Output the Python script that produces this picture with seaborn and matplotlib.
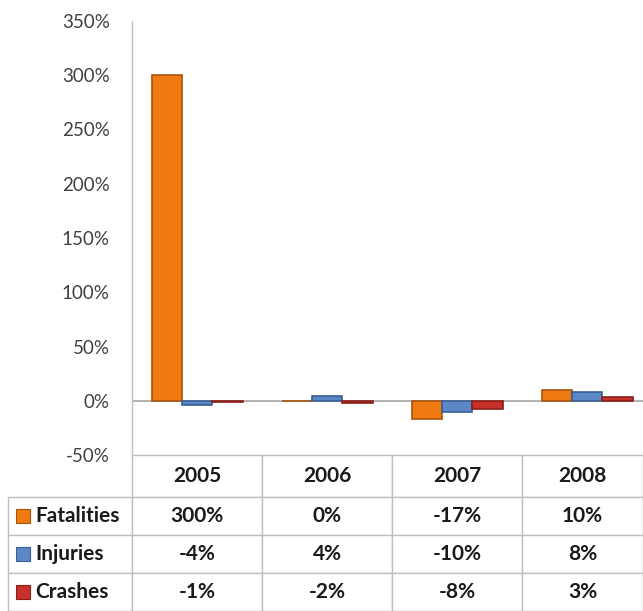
import numpy as np
import pandas as pd
import seaborn as sns
import matplotlib.pyplot as plt
from matplotlib.patches import Rectangle

### data
years = ["2005", "2006", "2007", "2008"]
series = ["Fatalities", "Injuries", "Crashes"]
fatalities = [300, 0, -17, 10]
injuries = [-4, 4, -10, 8]
crashes = [-1, -2, -8, 3]
y_ticks = [-50, 0, 50, 100, 150, 200, 250, 300, 350]

colors = {"Fatalities": "#F07A12", "Injuries": "#5B87C5", "Crashes": "#C8302B"}
edges = {"Fatalities": "#A9530C", "Injuries": "#3A5F95", "Crashes": "#8A1E1A"}

df = pd.DataFrame({"Year": years, "Fatalities": fatalities,
                   "Injuries": injuries, "Crashes": crashes})
long_df = df.melt(id_vars="Year", var_name="Series", value_name="Change")

sns.set_style("white")
plt.rcParams["font.family"] = ["Lato", "DejaVu Sans"]

W, H = 643, 611
fig = plt.figure(figsize=(W / 100, H / 100), dpi=100)
# plot area in pixel terms: left 132, right 643, top 21, bottom 455
ax = fig.add_axes([132 / W, 1 - 455 / H, (643 - 132) / W, (455 - 21) / H])

sns.barplot(data=long_df, x="Year", y="Change", hue="Series", order=years,
            hue_order=series, palette=colors, width=0.7, legend=False,
            saturation=1, ax=ax)

# darker outline on each bar, per series
for container, name in zip(ax.containers, series):
    for bar in container:
        bar.set_edgecolor(edges[name])
        bar.set_linewidth(1.2)

ax.set_ylim(-50, 350)
ax.set_xlim(-0.5, 3.43)
ax.set_yticks(y_ticks)
ax.set_yticklabels([f"{t}%" for t in y_ticks], fontsize=13.5, color="#404040")
ax.tick_params(axis="y", length=0, pad=16)
ax.set_xticks([])
ax.set_xlabel("")
ax.set_ylabel("")
ax.axhline(0, color="#A6A6A6", lw=1.2, zorder=0)
for side in ["top", "right", "bottom"]:
    ax.spines[side].set_visible(False)
ax.spines["left"].set_color("#BFBFBF")
ax.spines["left"].set_linewidth(1)

# data table under the plot; the series names are a plain first column
cell_text = [[s] + [f"{v}%" for v in df[s]] for s in series]
top_h = 156 / 434
tbl = ax.table(cellText=cell_text, colLabels=[""] + years, cellLoc="center",
               bbox=[(8 - 132) / 511, -top_h, (643 - 8) / 511, top_h])
tbl.auto_set_font_size(False)
tbl.set_fontsize(15)
col_w = [124, 130, 130, 130, 121]
for (r, c), cell in tbl.get_celld().items():
    cell.set_edgecolor("#BFBFBF")
    cell.set_linewidth(1)
    cell.set_height(42 if r == 0 else 38)
    cell.set_width(col_w[c])
    cell.get_text().set_fontweight("bold")
    cell.get_text().set_color("#1A1A1A")
    if c == 0:
        cell.PAD = 0.22
        cell.get_text().set_horizontalalignment("left")
        cell._loc = "left"
    if r == 0 and c == 0:
        cell.visible_edges = ""

# legend keys in the row-label cells
row_centers = [516, 554, 592]
for name, yc in zip(series, row_centers):
    fig.patches.append(Rectangle((16 / W, 1 - (yc + 7) / H), 14 / W, 14 / H,
                                 transform=fig.transFigure, facecolor=colors[name],
                                 edgecolor=edges[name], lw=0.8))

fig.savefig("out.png", dpi=100)
